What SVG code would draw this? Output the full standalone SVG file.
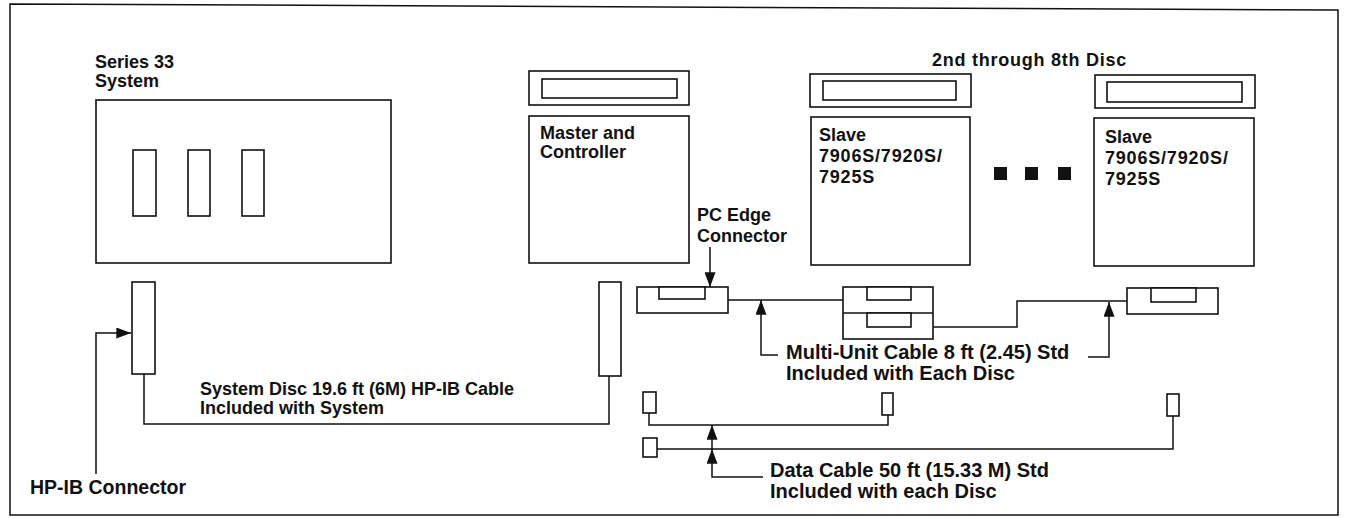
<svg xmlns="http://www.w3.org/2000/svg" width="1348" height="518" viewBox="0 0 1348 518">
<style>
  .box{fill:#fff;stroke:#111;stroke-width:1.6}
  .ln{fill:none;stroke:#111;stroke-width:1.5}
  .t{font-family:"Liberation Sans",Arial,sans-serif;font-weight:bold;fill:#111}
  .h{font-size:18px}
  .l{font-size:20px}
  .w{letter-spacing:0.8px}
  .sq{fill:#111}
</style>
<defs>
  <marker id="arrow" viewBox="0 0 16 12" refX="16" refY="6" markerWidth="16" markerHeight="11" orient="auto" markerUnits="userSpaceOnUse">
    <path d="M0,0 L16,6 L0,12 Z" fill="#111"/>
  </marker>
</defs>
<rect x="0" y="0" width="1348" height="518" fill="#fff"/>
<path id="frame" class="ln" d="M10,4 L1338,10 L1338,515 L10,515 Z"/>

<g id="series33">
  <rect class="box" x="96" y="100" width="295" height="163"/>
  <rect class="box" x="133" y="150" width="23" height="66"/>
  <rect class="box" x="188" y="150" width="22" height="66"/>
  <rect class="box" x="242" y="150" width="22" height="66"/>
  <text class="t h" x="95" y="68">Series 33</text>
  <text class="t h" x="95" y="87">System</text>
</g>

<g id="master">
  <rect class="box" x="529" y="71" width="160" height="34"/>
  <rect class="box" x="542" y="79" width="135" height="19"/>
  <rect class="box" x="529" y="116" width="160" height="147"/>
  <text class="t h" x="540" y="139">Master and</text>
  <text class="t h" x="540" y="158">Controller</text>
</g>

<g id="slave1">
  <rect class="box" x="810" y="74" width="161" height="33"/>
  <rect class="box" x="823" y="81" width="133" height="19"/>
  <rect class="box" x="811" y="117" width="159" height="148"/>
  <text class="t h" x="819" y="141">Slave</text>
  <text class="t h w" x="819" y="162">7906S/7920S/</text>
  <text class="t h w" x="819" y="183">7925S</text>
</g>

<g id="dots">
  <rect class="sq" x="994" y="167" width="13" height="13"/>
  <rect class="sq" x="1025" y="167" width="13" height="13"/>
  <rect class="sq" x="1058" y="167" width="13" height="13"/>
</g>

<g id="slave2">
  <rect class="box" x="1095" y="75" width="160" height="33"/>
  <rect class="box" x="1107" y="82" width="135" height="20"/>
  <rect class="box" x="1094" y="118" width="160" height="148"/>
  <text class="t h" x="1105" y="143">Slave</text>
  <text class="t h w" x="1105" y="164">7906S/7920S/</text>
  <text class="t h w" x="1105" y="185">7925S</text>
</g>

<text id="disc-range" class="t h" style="letter-spacing:0.75px" x="932" y="66">2nd through 8th Disc</text>

<g id="hpib-conn-system">
  <rect class="box" x="132" y="282" width="23" height="92"/>
</g>
<g id="hpib-conn-master">
  <rect class="box" x="599" y="282" width="22" height="94"/>
</g>
<g id="edge-conn-master">
  <rect class="box" x="637" y="287" width="91" height="26"/>
  <rect class="box" x="659" y="287" width="46" height="12"/>
</g>
<g id="edge-conn-slave1">
  <rect class="box" x="843" y="287" width="90" height="52"/>
  <line class="ln" x1="843" y1="313" x2="933" y2="313"/>
  <rect class="box" x="867" y="287" width="44" height="13"/>
  <rect class="box" x="867" y="313" width="44" height="14"/>
</g>
<g id="edge-conn-slave2">
  <rect class="box" x="1127" y="288" width="91" height="26"/>
  <rect class="box" x="1151" y="288" width="45" height="14"/>
</g>
<g id="data-conn-1"><rect class="box" x="643" y="392" width="13" height="21"/></g>
<g id="data-conn-2"><rect class="box" x="882" y="393" width="11" height="22"/></g>
<g id="data-conn-3"><rect class="box" x="643" y="438" width="14" height="19"/></g>
<g id="data-conn-4"><rect class="box" x="1167" y="394" width="12" height="22"/></g>

<g id="connectors">
  <path class="ln" d="M144,374 V424 H609 V376"/>
  <path class="ln" d="M728,300 H843"/>
  <path class="ln" d="M933,327 H1017 V301 H1127"/>
  <path class="ln" d="M649,413 V425 H888 V415"/>
  <path class="ln" d="M657,449 H1173 V416"/>
  <path class="ln" d="M96,474 V333 H131" marker-end="url(#arrow)"/>
  <path class="ln" d="M710,247 V287" marker-end="url(#arrow)"/>
  <path class="ln" d="M778,355 H761 V300" marker-end="url(#arrow)"/>
  <path class="ln" d="M1088,357 H1109 V302" marker-end="url(#arrow)"/>
  <path class="ln" d="M712,449 V425" marker-end="url(#arrow)"/>
  <path class="ln" d="M763,477 H712 V449" marker-end="url(#arrow)"/>
</g>

<g id="labels">
  <text class="t h" x="697" y="221">PC Edge</text>
  <text class="t h" x="697" y="242">Connector</text>
  <text class="t" style="font-size:19.5px" x="30" y="494">HP-IB Connector</text>
  <text class="t h" x="200" y="395">System Disc 19.6 ft (6M) HP-IB Cable</text>
  <text class="t h" x="200" y="414">Included with System</text>
  <text class="t l" x="786" y="359">Multi-Unit Cable 8 ft (2.45) Std</text>
  <text class="t l" x="786" y="380">Included with Each Disc</text>
  <text class="t l" x="770" y="477">Data Cable 50 ft (15.33 M) Std</text>
  <text class="t l" x="770" y="498">Included with each Disc</text>
</g>
</svg>
